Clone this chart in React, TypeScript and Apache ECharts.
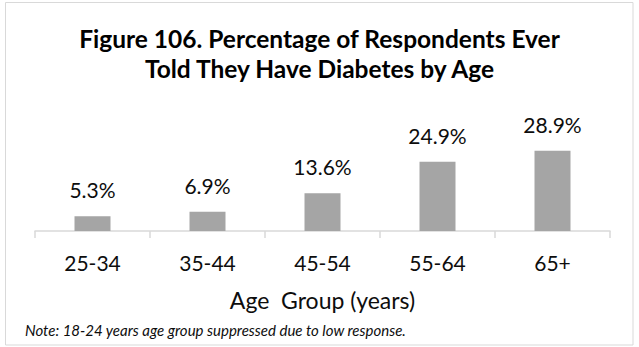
import React, { useEffect, useRef } from "react";
import * as echarts from "echarts";

const categories = ["25-34", "35-44", "45-54", "55-64", "65+"];
const values = [5.3, 6.9, 13.6, 24.9, 28.9];
const titleLines = ["Figure 106. Percentage of Respondents Ever", "Told They Have Diabetes by Age"];
const xAxisTitle = "Age  Group (years)";
const note = "Note: 18-24 years age group suppressed due to low response.";

const FONT = "Lato, 'Open Sans', sans-serif";

export default function App() {
  const ref = useRef<HTMLDivElement>(null);
  useEffect(() => {
    if (!ref.current) return;
    const chart = echarts.init(ref.current, null, { renderer: "svg" });
    chart.setOption({
      animation: false,
      backgroundColor: "#ffffff",
      title: {
        text: titleLines.join("\n"),
        left: "center",
        top: 23.5,
        padding: 0,
        textStyle: { fontFamily: FONT, fontSize: 24.5, fontWeight: "bold", color: "#000000", lineHeight: 30 },
      },
      grid: { left: 35, right: 29, top: 133.7, bottom: 116 },
      xAxis: {
        type: "category",
        data: categories,
        axisLine: { lineStyle: { color: "#d9d9d9", width: 1.5 } },
        axisTick: { show: true, length: 7, lineStyle: { color: "#d9d9d9", width: 1.5 } },
        axisLabel: { margin: 21, fontFamily: FONT, fontSize: 21, lineHeight: 21, color: "#0d0d0d" },
        name: xAxisTitle,
        nameLocation: "middle",
        nameGap: 57,
        nameTextStyle: { fontFamily: FONT, fontSize: 23, lineHeight: 23, color: "#0d0d0d" },
      },
      yAxis: {
        type: "value",
        min: 0,
        max: 35,
        show: false,
        splitLine: { show: false },
      },
      series: [
        {
          type: "bar",
          data: values,
          barWidth: 36,
          itemStyle: { color: "#a5a5a5" },
          label: {
            show: true,
            position: "top",
            distance: 16,
            formatter: (p: any) => p.value.toFixed(1) + "%",
            fontFamily: FONT,
            fontSize: 21,
            lineHeight: 21,
            color: "#0d0d0d",
          },
        },
      ],
      graphic: [
        {
          type: "rect",
          shape: { x: 5.5, y: 2.5, width: 627.5, height: 342.5 },
          style: { fill: "none", stroke: "#d9d9d9", lineWidth: 1 },
          silent: true,
        },
        {
          type: "text",
          x: 25,
          y: 330,
          style: {
            text: note,
            fontFamily: FONT,
            fontSize: 15,
            fontStyle: "italic",
            fill: "#0d0d0d",
            verticalAlign: "middle",
          },
        },
      ],
    });
    return () => chart.dispose();
  }, []);
  return (
    <div
      ref={ref}
      style={{ position: "fixed", left: 0, top: 0, width: 639, height: 347 }}
    />
  );
}
